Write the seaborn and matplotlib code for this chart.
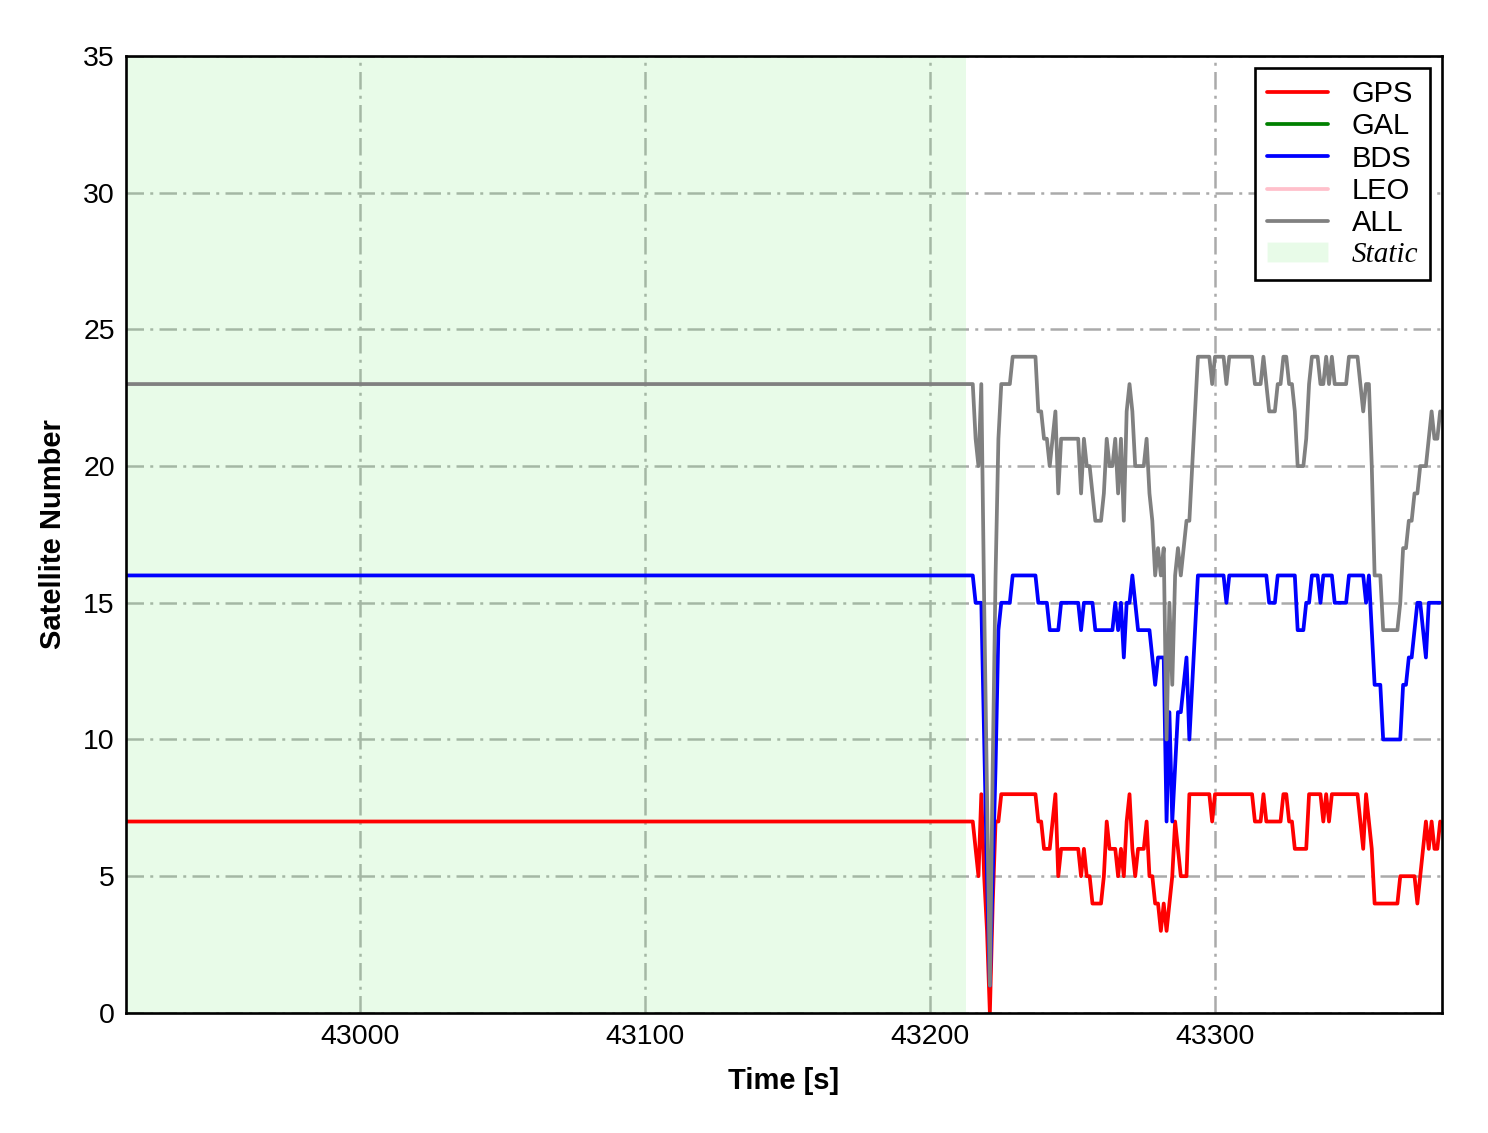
import matplotlib
matplotlib.use("Agg")
import matplotlib.pyplot as plt
from matplotlib.lines import Line2D
from matplotlib.patches import Patch
import numpy as np
import pandas as pd
import seaborn as sns

# static period (constant satellite counts) and dynamic epochs (1 s)
static_start = 42918
dyn_start = 43215
static_end_shade = 43212.6
static_gps = 7
static_bds = 16

gps_dyn = [
    7, 6, 5, 8, 5, 3, 0, 4, 7, 7,
    8, 8, 8, 8, 8, 8, 8, 8, 8, 8,
    8, 8, 8, 7, 7, 6, 6, 6, 7, 8,
    5, 6, 6, 6, 6, 6, 6, 6, 5, 6,
    5, 5, 4, 4, 4, 4, 5, 7, 6, 6,
    6, 5, 6, 5, 7, 8, 6, 5, 6, 6,
    6, 7, 5, 5, 4, 4, 3, 4, 3, 4,
    5, 7, 6, 5, 5, 5, 8, 8, 8, 8,
    8, 8, 8, 8, 7, 8, 8, 8, 8, 8,
    8, 8, 8, 8, 8, 8, 8, 8, 8, 7,
    7, 7, 8, 7, 7, 7, 7, 7, 7, 8,
    8, 7, 7, 6, 6, 6, 6, 6, 8, 8,
    8, 8, 8, 7, 8, 7, 8, 8, 8, 8,
    8, 8, 8, 8, 8, 8, 7, 6, 8, 7,
    6, 4, 4, 4, 4, 4, 4, 4, 4, 4,
    5, 5, 5, 5, 5, 5, 4, 5, 6, 7,
    6, 7, 6, 6, 7,
]

bds_dyn = [
    16, 15, 15, 15, 10, 5, 1, 5, 9, 14,
    15, 15, 15, 15, 16, 16, 16, 16, 16, 16,
    16, 16, 16, 15, 15, 15, 15, 14, 14, 14,
    14, 15, 15, 15, 15, 15, 15, 15, 14, 15,
    15, 15, 15, 14, 14, 14, 14, 14, 14, 14,
    15, 14, 15, 13, 15, 15, 16, 15, 14, 14,
    14, 14, 14, 13, 12, 13, 13, 13, 7, 11,
    7, 9, 11, 11, 12, 13, 10, 12, 14, 16,
    16, 16, 16, 16, 16, 16, 16, 16, 16, 15,
    16, 16, 16, 16, 16, 16, 16, 16, 16, 16,
    16, 16, 16, 16, 15, 15, 15, 16, 16, 16,
    16, 16, 16, 16, 14, 14, 14, 15, 15, 16,
    16, 16, 15, 16, 16, 16, 16, 15, 15, 15,
    15, 15, 16, 16, 16, 16, 16, 16, 15, 16,
    14, 12, 12, 12, 10, 10, 10, 10, 10, 10,
    10, 12, 12, 13, 13, 14, 15, 15, 14, 13,
    15, 15, 15, 15, 15,
]

systems = ["GPS", "GAL", "BDS", "LEO", "ALL"]
colors = {"GPS": "red", "GAL": "green", "BDS": "blue", "LEO": "pink", "ALL": "gray"}

n_static = dyn_start - static_start
time = np.arange(static_start, dyn_start + len(gps_dyn))
gps = np.concatenate([np.full(n_static, static_gps), gps_dyn])
bds = np.concatenate([np.full(n_static, static_bds), bds_dyn])
gal = np.zeros_like(gps)  # no Galileo / LEO satellites tracked
leo = np.zeros_like(gps)
all_sat = gps + gal + bds + leo

df = pd.concat([
    pd.DataFrame({"time": time, "count": gps, "system": "GPS"}),
    pd.DataFrame({"time": time, "count": bds, "system": "BDS"}),
    pd.DataFrame({"time": time, "count": all_sat, "system": "ALL"}),
])

sns.set_style("white")
plt.rcParams["font.family"] = ["Liberation Sans", "DejaVu Sans"]
plt.rcParams["text.color"] = "black"
plt.rcParams["axes.labelcolor"] = "black"

fig, ax = plt.subplots(figsize=(14.88, 11.33), dpi=100)
fig.subplots_adjust(left=0.0847, right=0.969, bottom=0.106, top=0.9506)

ax.axvspan(static_start, static_end_shade, color="lightgreen", alpha=0.2, lw=0)
sns.lineplot(data=df, x="time", y="count", hue="system", hue_order=["GPS", "BDS", "ALL"],
             palette=colors, estimator=None, linewidth=2.7, ax=ax, legend=False)

ax.set_xlim(42917.9, 43379.6)
ax.set_ylim(0, 35)
ax.set_xticks([43000, 43100, 43200, 43300])
ax.set_yticks(range(0, 36, 5))
ax.grid(True, color="#aaaaaa", linewidth=1.8, linestyle=(0, (7, 2.5, 1.2, 2.5)))

for sp in ax.spines.values():
    sp.set_linewidth(1.9)
    sp.set_color("black")
ax.tick_params(direction="in", length=7, width=1.9, labelsize=20.5, colors="black", pad=8)

ax.set_xlabel("Time [s]", fontsize=21, fontweight="bold", labelpad=12)
ax.set_ylabel("Satellite Number", fontsize=21, fontweight="bold", labelpad=12)

handles = [Line2D([], [], color=colors[s], lw=2.7) for s in systems]
handles.append(Patch(facecolor="lightgreen", alpha=0.2))
leg = ax.legend(handles, systems + ["Static"], loc="upper right", fontsize=21,
                frameon=True, fancybox=False, framealpha=1, edgecolor="black",
                handlelength=2.1, labelspacing=0.15, borderaxespad=0.42,
                handletextpad=0.8, borderpad=0.4)
leg.get_frame().set_linewidth(1.9)
for txt in leg.get_texts():
    txt.set_color("black")
static_txt = leg.get_texts()[-1]
static_txt.set_fontfamily(["Liberation Serif", "DejaVu Serif"])
static_txt.set_fontstyle("italic")

fig.savefig("out.png", dpi=100)
